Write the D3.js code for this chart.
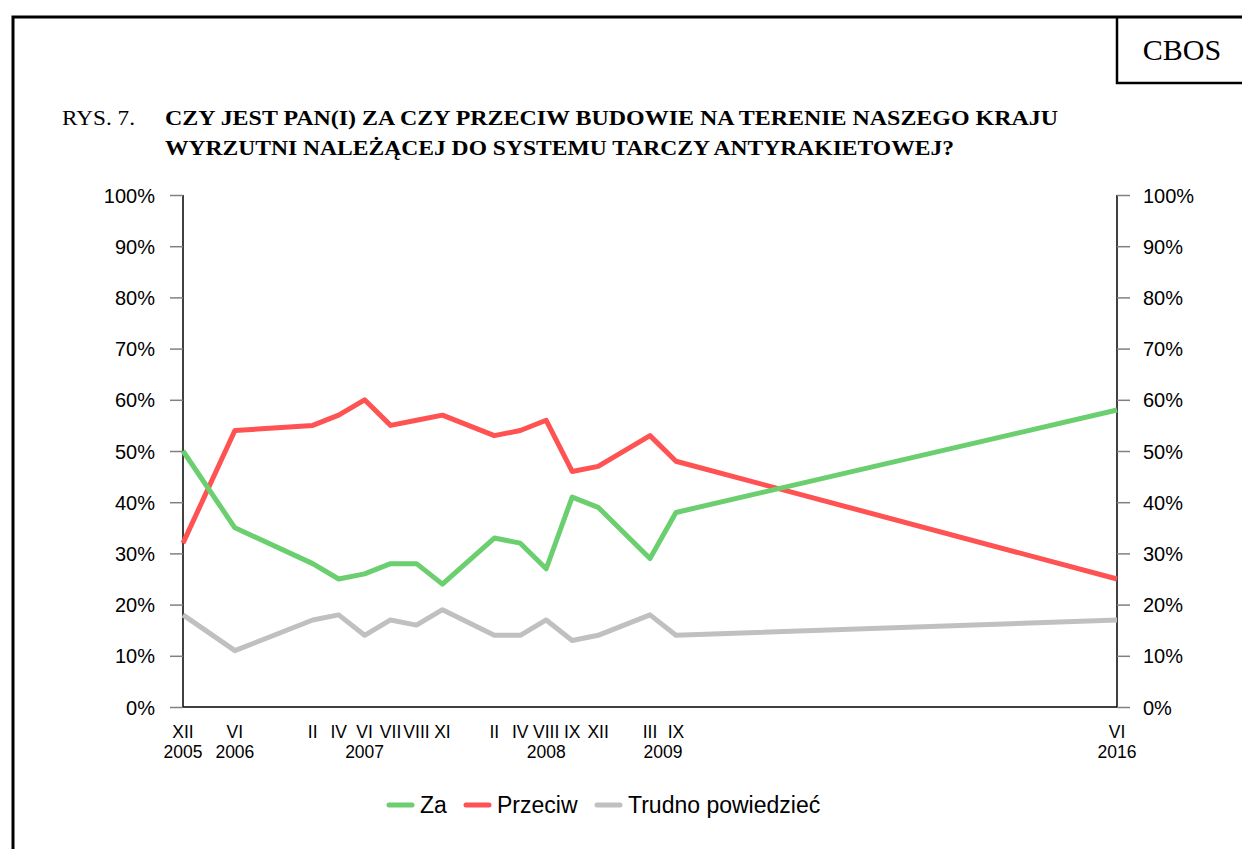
<!DOCTYPE html>
<html><head><meta charset="utf-8">
<script src="https://cdn.jsdelivr.net/npm/d3@7"></script>
<style>body{margin:0;background:#fff}svg{display:block}</style>
</head><body>
<script>
// Category slots of the axis ("" = empty category)
const months = ["XII","","VI","","","II","IV","VI","VII","VIII","XI","","II","IV","VIII","IX","XII","","III","IX",
  "","","","","","","","","","","","","","","","","VI"];
// Year group labels: [label, first slot, last slot]
const yearGroups = [["2005",0,0],["2006",2,2],["2007",4,10],["2008",12,16],["2009",18,19],["2016",36,36]];
const za      = [50,null,35,null,null,28,25,26,28,28,24,null,33,32,27,41,39,null,29,38,
  null,null,null,null,null,null,null,null,null,null,null,null,null,null,null,null,58];
const przeciw = [32,null,54,null,null,55,57,60,55,56,57,null,53,54,56,46,47,null,53,48,
  null,null,null,null,null,null,null,null,null,null,null,null,null,null,null,null,25];
const trudno  = [18,null,11,null,null,17,18,14,17,16,19,null,14,14,17,13,14,null,18,14,
  null,null,null,null,null,null,null,null,null,null,null,null,null,null,null,null,17];
const seriesNames = ["Za","Przeciw","Trudno powiedzieć"];
const yTicks = [0,10,20,30,40,50,60,70,80,90,100];

const W = 1242, H = 849;
const colors = ["#6bcf70","#ff5252","#c0c0c0"];
const svg = d3.select("body").append("svg").attr("width",W).attr("height",H);

// frame
svg.append("path").attr("d","M13,849V17H1242").attr("fill","none").attr("stroke","#000").attr("stroke-width",3);
svg.append("path").attr("d","M1117,17V83H1242").attr("fill","none").attr("stroke","#000").attr("stroke-width",2.5);
svg.append("text").attr("x",1182).attr("y",60).attr("text-anchor","middle")
  .attr("font-family","Liberation Serif").attr("font-size",30).text("CBOS");

// title
const tf = "Liberation Serif";
svg.append("text").attr("x",62).attr("y",125).attr("font-family",tf).attr("font-size",21)
  .attr("textLength",73).attr("lengthAdjust","spacingAndGlyphs").text("RYS. 7.");
svg.append("text").attr("x",165).attr("y",125).attr("font-family",tf).attr("font-size",21).attr("font-weight","bold")
  .attr("textLength",893).attr("lengthAdjust","spacingAndGlyphs")
  .text("CZY JEST PAN(I) ZA CZY PRZECIW BUDOWIE NA TERENIE NASZEGO KRAJU");
svg.append("text").attr("x",165).attr("y",155).attr("font-family",tf).attr("font-size",21).attr("font-weight","bold")
  .attr("textLength",789).attr("lengthAdjust","spacingAndGlyphs")
  .text("WYRZUTNI NALEŻĄCEJ DO SYSTEMU TARCZY ANTYRAKIETOWEJ?");

const x = d3.scalePoint().domain(d3.range(months.length)).range([183,1117]);
const y = d3.scaleLinear().domain([0,100]).range([707,195]);
const sf = "Liberation Sans";

// y axes
const gl = svg.append("g").attr("transform","translate(183,0)")
  .call(d3.axisLeft(y).tickValues(yTicks).tickSize(13).tickPadding(15).tickFormat(d=>d+"%"));
const gr = svg.append("g").attr("transform","translate(1117,0)")
  .call(d3.axisRight(y).tickValues(yTicks).tickSize(13).tickPadding(13).tickFormat(d=>d+"%"));
[gl,gr].forEach(g=>{
  g.select(".domain").attr("stroke","#000").attr("stroke-width",1.5).attr("d","M0,707V195");
  g.selectAll(".tick line").attr("stroke","#808080").attr("stroke-width",1.5);
  g.selectAll(".tick text").attr("font-family",sf).attr("font-size",20).attr("fill","#000").attr("dy","0.35em");
});
// x axis line
svg.append("line").attr("x1",x(0)).attr("x2",x(months.length-1)).attr("y1",y(0)).attr("y2",y(0))
  .attr("stroke","#000").attr("stroke-width",1.5);

// x labels
svg.append("g").selectAll("text").data(months.map((m,i)=>[m,i]).filter(d=>d[0]!==""))
  .join("text").attr("x",d=>x(d[1])).attr("y",738).attr("text-anchor","middle")
  .attr("font-family",sf).attr("font-size",17.5).text(d=>d[0]);
svg.append("g").selectAll("text").data(yearGroups).join("text")
  .attr("x",d=>(x(d[1])+x(d[2]))/2).attr("y",758).attr("text-anchor","middle")
  .attr("font-family",sf).attr("font-size",17.5).text(d=>d[0]);

// lines
const line = d3.line().x(d=>x(d[0])).y(d=>y(d[1]));
[trudno, przeciw, za].forEach((s,k)=>{
  const ci = [2,1,0][k];
  const pts = s.map((v,i)=>[i,v]).filter(d=>d[1]!==null);
  svg.append("path").attr("d",line(pts)).attr("fill","none").attr("stroke",colors[ci])
    .attr("stroke-width",5).attr("stroke-linejoin","round");
});

// legend
const legX = [389,466,597];
const lg = svg.append("g");
seriesNames.forEach((n,i)=>{
  lg.append("line").attr("x1",legX[i]).attr("x2",legX[i]+23).attr("y1",805).attr("y2",805)
    .attr("stroke",colors[i]).attr("stroke-width",5).attr("stroke-linecap","round");
  lg.append("text").attr("x",legX[i]+31).attr("y",813).attr("font-family",sf).attr("font-size",23).text(n);
});
</script>
</body></html>
